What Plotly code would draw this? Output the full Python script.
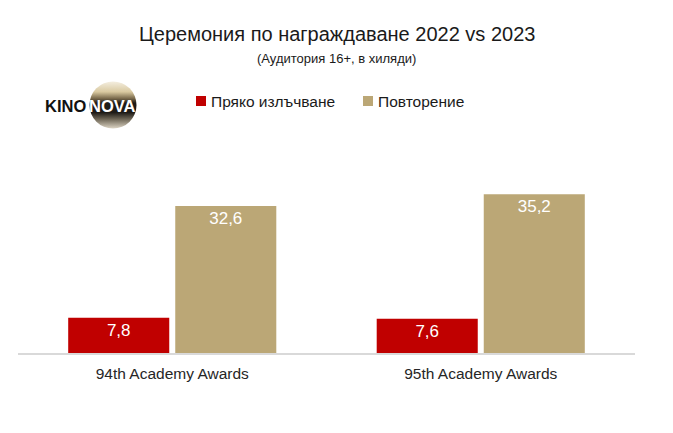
import base64
import plotly.graph_objects as go

# ---- data ----
categories = ["94th Academy Awards", "95th Academy Awards"]
series_names = ["Пряко излъчване", "Повторение"]
live_values = [7.8, 7.6]
replay_values = [32.6, 35.2]
colors = ["#C00000", "#BBA776"]
title_text = "Церемония по награждаване 2022 vs 2023"
subtitle_text = "(Аудитория 16+, в хиляди)"

W, H = 673, 433
L, R, T, B = 18, 38, 150, 80
PW, PH = W - L - R, H - T - B


def px(x):
    return (x - L) / PW


def py(y):
    return (H - B - y) / PH


fig = go.Figure()
for name, vals, col in zip(series_names, [live_values, replay_values], colors):
    fig.add_trace(go.Bar(
        x=categories, y=vals, name=name,
        marker=dict(color=col, line=dict(width=0)),
        texttemplate="%{y:.1f}", textposition="inside", insidetextanchor="end",
        textangle=0,
        insidetextfont=dict(color="white", size=17, family="Liberation Sans, Arial, sans-serif"),
        showlegend=False, hoverinfo="skip",
    ))

# custom legend (squares + text)
legend_items = [(196, 209, series_names[0], colors[0]), (363, 376, series_names[1], colors[1])]
shapes = []
annotations = []
for sx, tx, name, col in legend_items:
    shapes.append(dict(type="rect", xref="paper", yref="paper",
                       x0=px(sx), x1=px(sx + 10), y0=py(106), y1=py(96),
                       fillcolor=col, line=dict(width=0)))
    annotations.append(dict(xref="paper", yref="paper", x=px(tx), y=py(101),
                            text=name, showarrow=False, xanchor="left", yanchor="middle",
                            font=dict(size=15.5, color="#1a1a1a")))

# title & subtitle
annotations.append(dict(xref="paper", yref="paper", x=px(W / 2), y=py(34), text=title_text,
                        showarrow=False, xanchor="center", yanchor="middle",
                        font=dict(size=20, color="#1a1a1a")))
annotations.append(dict(xref="paper", yref="paper", x=px(W / 2), y=py(58), text=subtitle_text,
                        showarrow=False, xanchor="center", yanchor="middle",
                        font=dict(size=13, color="#1a1a1a")))

# logo
svg = """<svg xmlns='http://www.w3.org/2000/svg' width='100' height='100' viewBox='0 0 100 100'>
<defs><linearGradient id='g' x1='0' y1='0' x2='0' y2='1'>
<stop offset='0' stop-color='#f4eee0'/><stop offset='0.22' stop-color='#d9c9a0'/>
<stop offset='0.36' stop-color='#7a6a4c'/><stop offset='0.46' stop-color='#1e1b17'/>
<stop offset='0.66' stop-color='#1e1b17'/><stop offset='0.8' stop-color='#6e6656'/>
<stop offset='1' stop-color='#ddd5c5'/></linearGradient></defs>
<circle cx='50' cy='50' r='49' fill='url(#g)'/></svg>"""
src = "data:image/svg+xml;base64," + base64.b64encode(svg.encode()).decode()
images = [dict(source=src, xref="paper", yref="paper", x=px(89), y=py(81),
               sizex=48 / PW, sizey=48 / PH, sizing="stretch", xanchor="left", yanchor="top",
               layer="above")]
annotations.append(dict(xref="paper", yref="paper", x=px(43), y=py(106), text="<b>KINO</b>",
                        showarrow=False, xanchor="left", yanchor="middle",
                        font=dict(size=16.5, color="#111111", family="Liberation Sans, Arial")))
annotations.append(dict(xref="paper", yref="paper", x=px(87), y=py(106), text="<b>NOVA</b>",
                        showarrow=False, xanchor="left", yanchor="middle",
                        font=dict(size=16.5, color="#ffffff", family="Liberation Sans, Arial")))

fig.update_layout(
    width=W, height=H,
    margin=dict(l=L, r=R, t=T, b=B),
    paper_bgcolor="white", plot_bgcolor="white",
    barmode="group", bargap=0.306, bargroupgap=0.056,
    separators=",.",
    font=dict(family="Liberation Sans, Arial, sans-serif"),
    xaxis=dict(type="category", showline=True, linecolor="#D9D9D9", linewidth=1.5,
               ticks="outside", ticklen=6, tickcolor="rgba(0,0,0,0)",
               tickfont=dict(size=15.5, color="#262626"), showgrid=False),
    yaxis=dict(range=[0, 45], visible=False, showgrid=False, zeroline=False),
    shapes=shapes, annotations=annotations, images=images,
)

fig.write_html("out.html", config={"displayModeBar": False},
               post_script="document.body.style.margin='0';")
